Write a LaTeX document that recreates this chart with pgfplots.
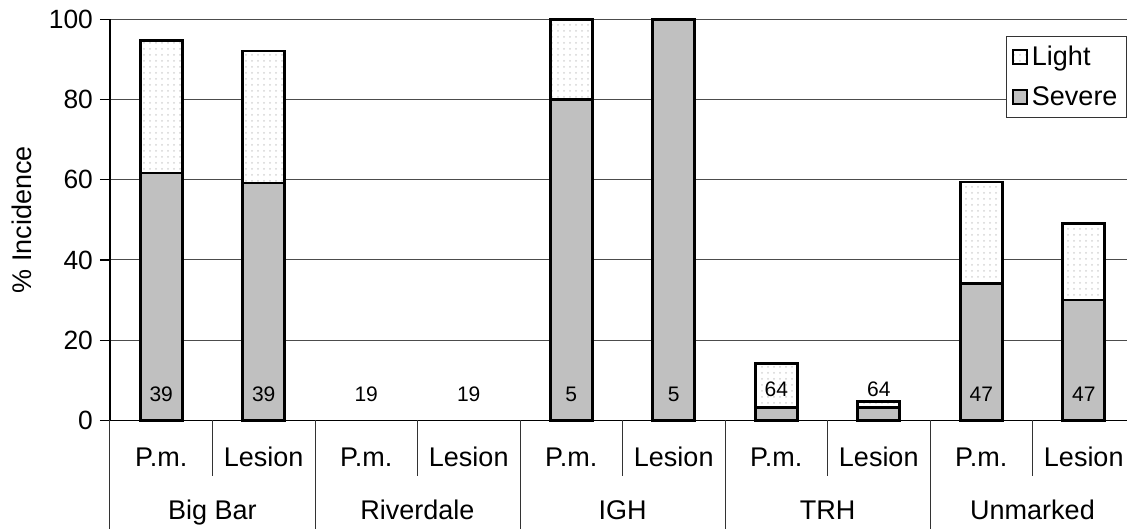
\documentclass[border=0pt]{standalone}
\usepackage{fontspec}
\setmainfont{Liberation Sans}
\usepackage{pgfplots}
\pgfplotsset{compat=1.18}
\usetikzlibrary{patterns}
\definecolor{severegray}{RGB}{192,192,192}

\begin{document}
\begin{tikzpicture}[font=\fontsize{13.5}{16}\selectfont]
\useasboundingbox (-55pt,-54.25pt) rectangle (508.5pt,210.2pt);
\begin{axis}[
  scale only axis,
  width=508.5pt, height=200.5pt,
  xmin=-0.5, xmax=9.422,
  ymin=0, ymax=100,
  ytick={0,20,40,60,80,100},
  xtick=\empty,
  axis x line*=bottom,
  axis y line*=left,
  axis line style={black, line width=0.6pt},
  ymajorgrids,
  grid style={black!70, line width=0.5pt},
  tick align=outside,
  major tick length=5pt,
  ytick style={black, line width=0.6pt},
  /pgf/number format/assume math mode=true,
  yticklabel style={font=\fontsize{13.2}{16}\selectfont},
  ylabel={\% Incidence},
  ylabel style={at={(axis description cs:-0.0865,0.5)}, anchor=center},
  clip=false,
  ybar, bar shift=0pt, bar width=0.41,
  legend style={at={(rel axis cs:1,0.958)}, anchor=north east,
    draw=black!80, line width=0.5pt, inner sep=2.5pt, row sep=5pt,
    fill=white},
  legend cell align=left,
  legend image code/.code={\draw[#1, line width=1pt] (0pt,-3.5pt) rectangle (7pt,3.5pt);},
]
% total incidence (light on top of severe)
\addplot[draw=black, line width=1.3pt, fill=white,
  postaction={pattern=dots, pattern color=black!16}]
  coordinates {(0,94.7) (1,92.1) (4,100) (5,100) (6,14.2) (7,4.7) (8,59.5) (9,49.1)};
\addlegendentry{Light}
% severe incidence
\addplot[draw=black, line width=1.3pt, fill=severegray]
  coordinates {(0,61.7) (1,59.2) (4,80) (5,100) (6,3.2) (7,3.2) (8,34.1) (9,30)};
\addlegendentry{Severe}

% sample sizes
\node[font=\fontsize{10.5}{12}\selectfont] at (axis cs:0,6.4) {39};
\node[font=\fontsize{10.5}{12}\selectfont] at (axis cs:1,6.4) {39};
\node[font=\fontsize{10.5}{12}\selectfont] at (axis cs:2,6.4) {19};
\node[font=\fontsize{10.5}{12}\selectfont] at (axis cs:3,6.4) {19};
\node[font=\fontsize{10.5}{12}\selectfont] at (axis cs:4,6.4) {5};
\node[font=\fontsize{10.5}{12}\selectfont] at (axis cs:5,6.4) {5};
\node[font=\fontsize{10.5}{12}\selectfont] at (axis cs:6,7.7) {64};
\node[font=\fontsize{10.5}{12}\selectfont] at (axis cs:7,7.7) {64};
\node[font=\fontsize{10.5}{12}\selectfont] at (axis cs:8,6.4) {47};
\node[font=\fontsize{10.5}{12}\selectfont] at (axis cs:9,6.4) {47};

% two-level category axis
\pgfplotsinvokeforeach{0,2,4,6,8}{
  \node[anchor=base] at (axis cs:#1,-11.6) {P.m.};
}
\pgfplotsinvokeforeach{1,3,5,7,9}{
  \node[anchor=base] at (axis cs:#1,-11.6) {Lesion};
}
\node[anchor=base] at (axis cs:0.5,-24.7) {Big Bar};
\node[anchor=base] at (axis cs:2.5,-24.7) {Riverdale};
\node[anchor=base] at (axis cs:4.5,-24.7) {IGH};
\node[anchor=base] at (axis cs:6.5,-24.7) {TRH};
\node[anchor=base] at (axis cs:8.5,-24.7) {Unmarked};
\pgfplotsinvokeforeach{0.5,2.5,4.5,6.5,8.5}{
  \draw[black!80, line width=0.5pt] (axis cs:#1,0) -- (axis cs:#1,-13.9);
}
\pgfplotsinvokeforeach{-0.5,1.5,3.5,5.5,7.5}{
  \draw[black!80, line width=0.5pt] (axis cs:#1,0) -- (axis cs:#1,-28);
}
\end{axis}
\end{tikzpicture}
\end{document}
